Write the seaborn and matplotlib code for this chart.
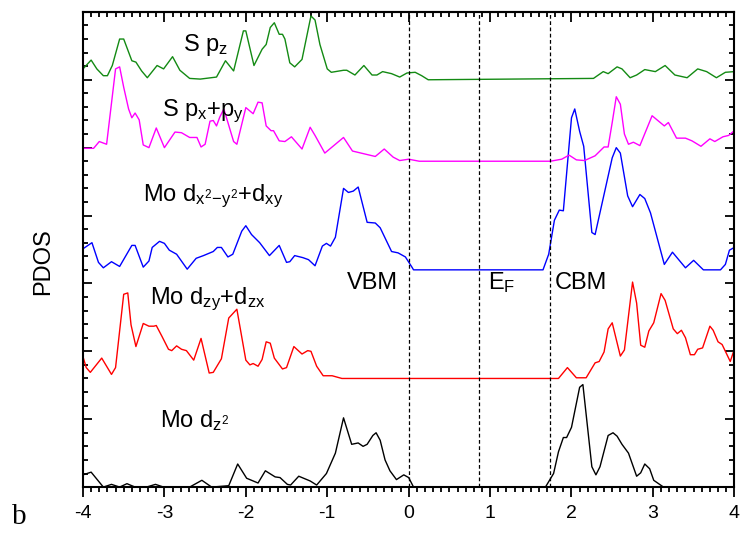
import matplotlib
matplotlib.use("Agg")
import matplotlib.pyplot as plt
from matplotlib.ticker import MultipleLocator, NullFormatter
import numpy as np
import pandas as pd
import seaborn as sns

# energies (eV) and PDOS, one pair of lists per orbital
e_dz2 = [-4.0, -3.90, -3.75, -3.65, -3.55, -3.46, -3.36, -3.22, -3.11, -3.01,
         -2.69, -2.54, -2.42, -2.21, -2.10, -1.99, -1.85, -1.76, -1.64, -1.58,
         -1.49, -1.45, -1.35, -1.21, -1.13, -1.01, -0.90, -0.80, -0.70, -0.62,
         -0.56, -0.51, -0.44, -0.40, -0.35, -0.29, -0.23, -0.15, -0.06, 0.0,
         0.06, 1.68, 1.78, 1.84, 1.90, 1.94, 2.00, 2.10, 2.14, 2.25,
         2.30, 2.35, 2.45, 2.51, 2.56, 2.62, 2.70, 2.80, 2.85, 2.90,
         2.96, 3.01, 3.13, 4.0]
d_dz2 = [0.18, 0.22, 0.0, 0.04, 0.0, 0.05, 0.0, 0.0, 0.04, 0.0,
         0.0, 0.10, 0.0, 0.02, 0.34, 0.13, 0.06, 0.24, 0.15, 0.14,
         0.04, 0.03, 0.16, 0.09, 0.03, 0.20, 0.50, 1.02, 0.63, 0.65,
         0.60, 0.63, 0.76, 0.80, 0.69, 0.40, 0.24, 0.11, 0.18, 0.14,
         0.0, 0.0, 0.20, 0.52, 0.73, 0.73, 0.88, 1.47, 1.51, 0.30,
         0.18, 0.30, 0.76, 0.80, 0.75, 0.63, 0.50, 0.16, 0.21, 0.34,
         0.27, 0.10, 0.0, 0.0]

e_dzyzx = [-4.0, -3.96, -3.91, -3.77, -3.65, -3.60, -3.50, -3.45, -3.41, -3.35,
           -3.26, -3.19, -3.13, -3.10, -3.03, -2.95, -2.91, -2.85, -2.79, -2.73,
           -2.64, -2.55, -2.45, -2.40, -2.30, -2.21, -2.11, -2.00, -1.95, -1.91,
           -1.85, -1.80, -1.75, -1.70, -1.65, -1.55, -1.50, -1.41, -1.31, -1.24,
           -1.20, -1.13, -1.05, -0.94, -0.82, 1.84, 1.95, 2.06, 2.18, 2.29,
           2.34, 2.40, 2.45, 2.50, 2.60, 2.65, 2.75, 2.80, 2.85, 2.90,
           2.95, 3.01, 3.10, 3.15, 3.25, 3.30, 3.35, 3.40, 3.46, 3.51,
           3.55, 3.61, 3.70, 3.74, 3.80, 3.85, 3.95, 4.0]
d_dzyzx = [0.32, 0.16, 0.09, 0.30, 0.06, 0.16, 1.24, 1.26, 0.79, 0.47,
           0.81, 0.77, 0.77, 0.78, 0.62, 0.43, 0.41, 0.48, 0.43, 0.41,
           0.27, 0.59, 0.08, 0.09, 0.29, 0.89, 1.02, 0.27, 0.20, 0.22,
           0.18, 0.28, 0.54, 0.52, 0.30, 0.14, 0.16, 0.47, 0.36, 0.41,
           0.40, 0.18, 0.04, 0.04, 0.0, 0.0, 0.16, 0.01, 0.01, 0.23,
           0.25, 0.39, 0.73, 0.82, 0.33, 0.42, 1.42, 1.11, 0.49, 0.46,
           0.70, 0.82, 1.25, 1.15, 0.73, 0.66, 0.71, 0.60, 0.35, 0.35,
           0.43, 0.45, 0.77, 0.71, 0.54, 0.50, 0.25, 0.43]

e_dx2xy = [-4.0, -3.89, -3.81, -3.75, -3.65, -3.55, -3.40, -3.36, -3.26, -3.19,
           -3.15, -3.06, -3.00, -2.94, -2.85, -2.72, -2.61, -2.52, -2.40, -2.35,
           -2.30, -2.22, -2.16, -2.05, -2.00, -1.93, -1.83, -1.71, -1.59, -1.50,
           -1.46, -1.40, -1.30, -1.23, -1.15, -1.06, -1.01, -0.96, -0.90, -0.80,
           -0.74, -0.68, -0.62, -0.51, -0.41, -0.35, -0.21, -0.13, -0.04, 0.04,
           0.06, 1.65, 1.72, 1.79, 1.85, 1.90, 2.00, 2.04, 2.10, 2.15,
           2.25, 2.29, 2.50, 2.55, 2.60, 2.69, 2.75, 2.84, 2.90, 2.97,
           3.14, 3.24, 3.40, 3.50, 3.62, 3.83, 3.89, 3.94, 4.0]
d_dx2xy = [0.31, 0.40, 0.11, 0.03, 0.12, 0.05, 0.36, 0.36, 0.04, 0.13,
           0.33, 0.42, 0.39, 0.29, 0.23, 0.01, 0.17, 0.21, 0.27, 0.33,
           0.33, 0.19, 0.23, 0.57, 0.65, 0.52, 0.40, 0.21, 0.36, 0.11,
           0.12, 0.21, 0.18, 0.15, 0.06, 0.35, 0.39, 0.35, 0.48, 1.20,
           1.14, 1.16, 1.22, 0.70, 0.69, 0.62, 0.27, 0.25, 0.19, 0.04,
           0.0, 0.0, 0.23, 0.73, 0.88, 0.87, 2.24, 2.37, 2.04, 1.82,
           0.55, 0.52, 1.65, 1.80, 1.72, 1.09, 0.93, 1.11, 1.05, 0.84,
           0.08, 0.26, 0.03, 0.14, 0.0, 0.0, 0.08, 0.29, 0.33]

e_pxpy = [-4.0, -3.87, -3.80, -3.71, -3.60, -3.55, -3.50, -3.44, -3.40, -3.36,
          -3.31, -3.26, -3.19, -3.10, -3.00, -2.87, -2.79, -2.69, -2.60, -2.55,
          -2.50, -2.44, -2.40, -2.36, -2.32, -2.27, -2.15, -2.11, -2.00, -1.91,
          -1.85, -1.80, -1.75, -1.69, -1.66, -1.59, -1.52, -1.44, -1.31, -1.21,
          -1.15, -1.03, -0.80, -0.69, -0.41, -0.30, -0.19, -0.11, 0.0, 0.13,
          1.74, 1.88, 1.97, 2.06, 2.16, 2.29, 2.40, 2.45, 2.50, 2.55,
          2.60, 2.65, 2.70, 2.76, 2.84, 2.99, 3.09, 3.14, 3.19, 3.29,
          3.40, 3.48, 3.59, 3.70, 3.76, 3.86, 3.93, 4.0]
d_pxpy = [0.19, 0.19, 0.29, 0.25, 1.36, 1.39, 1.09, 0.77, 0.64, 0.71,
          0.61, 0.24, 0.20, 0.49, 0.20, 0.43, 0.42, 0.35, 0.35, 0.21,
          0.25, 0.59, 0.60, 0.52, 0.65, 0.77, 0.29, 0.25, 0.79, 0.70,
          0.87, 0.86, 0.52, 0.45, 0.45, 0.30, 0.29, 0.36, 0.18, 0.50,
          0.38, 0.12, 0.35, 0.15, 0.07, 0.18, 0.06, 0.01, 0.03, 0.0,
          0.0, 0.03, 0.09, 0.02, 0.01, 0.08, 0.21, 0.21, 0.57, 0.95,
          0.84, 0.40, 0.25, 0.28, 0.23, 0.67, 0.57, 0.52, 0.57, 0.34,
          0.34, 0.30, 0.22, 0.33, 0.29, 0.36, 0.38, 0.45]

e_pz = [-4.0, -3.90, -3.83, -3.75, -3.70, -3.64, -3.55, -3.50, -3.40, -3.35,
        -3.28, -3.21, -3.09, -3.01, -2.90, -2.81, -2.69, -2.56, -2.36, -2.25,
        -2.15, -2.03, -2.00, -1.90, -1.80, -1.75, -1.70, -1.65, -1.59, -1.55,
        -1.52, -1.46, -1.40, -1.31, -1.20, -1.15, -1.09, -1.00, -0.95, -0.80,
        -0.76, -0.66, -0.55, -0.45, -0.39, -0.32, -0.21, -0.11, -0.02, 0.08,
        0.16, 0.24, 2.27, 2.39, 2.45, 2.56, 2.62, 2.72, 2.80, 2.90,
        3.03, 3.15, 3.27, 3.42, 3.55, 3.66, 3.78, 3.89, 4.0]
d_pz = [0.16, 0.29, 0.16, 0.06, 0.06, 0.21, 0.60, 0.60, 0.28, 0.26,
        0.13, 0.03, 0.21, 0.16, 0.34, 0.14, 0.02, 0.01, 0.04, 0.28,
        0.13, 0.72, 0.72, 0.21, 0.45, 0.52, 0.77, 0.84, 0.67, 0.67,
        0.60, 0.25, 0.19, 0.30, 0.94, 0.88, 0.52, 0.16, 0.11, 0.14,
        0.14, 0.07, 0.21, 0.07, 0.07, 0.12, 0.09, 0.04, 0.10, 0.11,
        0.06, 0.0, 0.02, 0.12, 0.09, 0.19, 0.16, 0.03, 0.07, 0.15,
        0.12, 0.21, 0.07, 0.03, 0.16, 0.12, 0.03, 0.11, 0.12]

orbitals = ["dz2", "dzy+dzx", "dx2-y2+dxy", "px+py", "pz"]
offsets = [0.0, 1.6, 3.2, 4.8, 6.0]
colors = ["black", "#ff0000", "#0000ff", "#ff00ff", "#138a13"]
labels = [r"Mo d$_\mathregular{z^2}$",
          r"Mo d$_\mathregular{zy}$+d$_\mathregular{zx}$",
          r"Mo d$_\mathregular{x^2\!-\!y^2}$+d$_\mathregular{xy}$",
          r"S p$_\mathregular{x}$+p$_\mathregular{y}$",
          r"S p$_\mathregular{z}$"]
levels = [0.0, 0.86, 1.73]   # VBM, E_F, CBM
level_names = ["VBM", r"E$_\mathregular{F}$", "CBM"]

curves = [(e_dz2, d_dz2), (e_dzyzx, d_dzyzx), (e_dx2xy, d_dx2xy),
          (e_pxpy, d_pxpy), (e_pz, d_pz)]
frames = []
for name, off, (e, d) in zip(orbitals, offsets, curves):
    frames.append(pd.DataFrame({"energy": e, "pdos": np.array(d) + off, "orbital": name}))
df = pd.concat(frames, ignore_index=True)

sns.set_style("ticks")
plt.rcParams["font.family"] = ["Liberation Sans", "DejaVu Sans"]
plt.rcParams["mathtext.fontset"] = "custom"
plt.rcParams["mathtext.rm"] = "Liberation Sans"
plt.rcParams["mathtext.it"] = "Liberation Sans"
plt.rcParams["axes.unicode_minus"] = False
plt.rcParams["text.color"] = "black"
plt.rcParams["axes.labelcolor"] = "black"
plt.rcParams["xtick.color"] = "black"
plt.rcParams["ytick.color"] = "black"

fig = plt.figure(figsize=(7.41, 5.4), dpi=100)
ax = fig.add_axes([0.112, 0.098, 0.879, 0.880])

sns.lineplot(data=df, x="energy", y="pdos", hue="orbital", hue_order=orbitals,
             palette=dict(zip(orbitals, colors)), estimator=None, sort=False,
             linewidth=1.0, legend=False, ax=ax)

for x in levels:
    ax.axvline(x, color="black", ls=(0, (3, 2)), lw=0.9)

label_pos = [(-3.06, 0.88), (-3.18, 2.69), (-3.26, 4.22), (-3.03, 5.47), (-2.77, 6.42)]
for (x, y), txt in zip(label_pos, labels):
    ax.text(x, y, txt, fontsize=17, ha="left", va="baseline")
for x, txt in zip([-0.76, 0.97, 1.79], level_names):
    ax.text(x, 2.92, txt, fontsize=17, ha="left", va="baseline")

ax.set_xlim(-4, 4)
ax.set_ylim(0, 7)
ax.set_xlabel("")
ax.set_ylabel("PDOS", fontsize=17)
ax.yaxis.set_label_coords(-0.045, 0.474)

ax.xaxis.set_major_locator(MultipleLocator(1))
ax.xaxis.set_minor_locator(MultipleLocator(0.1))
ax.yaxis.set_major_locator(MultipleLocator(1))
ax.yaxis.set_minor_locator(MultipleLocator(0.2))
ax.yaxis.set_major_formatter(NullFormatter())
ax.tick_params(axis="x", which="both", direction="out", top=False, labelsize=14, width=1.3, pad=6)
ax.tick_params(axis="x", which="major", length=7)
ax.tick_params(axis="x", which="minor", length=3.5)
ax.tick_params(axis="y", which="both", direction="in", left=True, right=True, width=1.3)
ax.tick_params(axis="y", which="major", length=6.5)
ax.tick_params(axis="y", which="minor", length=3.5)

top = ax.secondary_xaxis("top")
top.xaxis.set_major_locator(MultipleLocator(1))
top.xaxis.set_minor_locator(MultipleLocator(0.1))
top.tick_params(axis="x", which="both", direction="in", labeltop=False, width=1.3)
top.tick_params(axis="x", which="major", length=7)
top.tick_params(axis="x", which="minor", length=3.5)
top.spines["top"].set_linewidth(1.5)

for s in ax.spines.values():
    s.set_visible(True)
    s.set_linewidth(1.5)
    s.set_color("black")

fig.text(0.016, 0.03, "b", fontsize=21, family="Liberation Serif")

fig.savefig("out.png", dpi=100)
